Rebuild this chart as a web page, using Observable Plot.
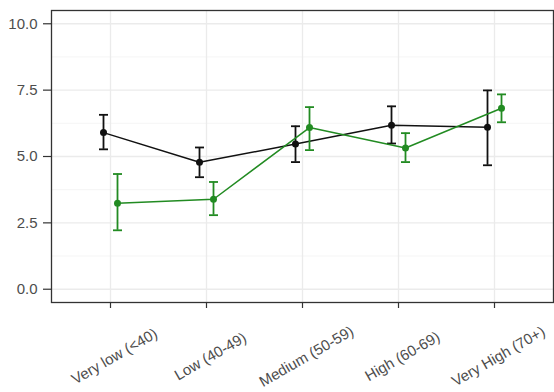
<!DOCTYPE html>
<html>
<head>
<meta charset="utf-8">
<script src="https://cdn.jsdelivr.net/npm/d3@7"></script>
<script src="https://cdn.jsdelivr.net/npm/@observablehq/plot@0.6"></script>
<style>
  html, body { margin: 0; padding: 0; background: #ffffff; }
  #chart svg { display: block; }
</style>
</head>
<body>
<div id="chart"></div>
<script>
const categories = ["Very low (<40)", "Low (40-49)", "Medium (50-59)", "High (60-69)", "Very High (70+)"];
const blackMean = [5.90, 4.78, 5.47, 6.18, 6.10];
const blackLo   = [5.27, 4.22, 4.79, 5.49, 4.67];
const blackHi   = [6.57, 5.34, 6.14, 6.89, 7.49];
const greenMean = [3.24, 3.39, 6.09, 5.32, 6.82];
const greenLo   = [2.22, 2.79, 5.24, 4.79, 6.29];
const greenHi   = [4.34, 4.04, 6.86, 5.88, 7.34];
const yMajor = [0, 2.5, 5, 7.5, 10];
const yMinor = [1.25, 3.75, 6.25, 8.75];

const black = categories.map((c, i) => ({cat: c, mean: blackMean[i], lo: blackLo[i], hi: blackHi[i]}));
const green = categories.map((c, i) => ({cat: c, mean: greenMean[i], lo: greenLo[i], hi: greenHi[i]}));

const GREEN = "#228B22";
const BLACK = "#111111";

// horizontal cap symbol for error bars
const capSymbol = {
  draw(context, size) {
    const r = Math.sqrt(size / Math.PI);
    context.moveTo(-r, 0);
    context.lineTo(r, 0);
  }
};

function series(data, color, dx) {
  return [
    Plot.line(data, {x: "cat", y: "mean", stroke: color, strokeWidth: 1.5, dx}),
    Plot.ruleX(data, {x: "cat", y1: "lo", y2: "hi", stroke: color, strokeWidth: 1.8, dx}),
    Plot.dot(data, {x: "cat", y: "lo", symbol: capSymbol, r: 4.5, stroke: color, fill: "none", strokeWidth: 1.8, dx}),
    Plot.dot(data, {x: "cat", y: "hi", symbol: capSymbol, r: 4.5, stroke: color, fill: "none", strokeWidth: 1.8, dx}),
    Plot.dot(data, {x: "cat", y: "mean", fill: color, r: 3.5, dx})
  ];
}

const chart = Plot.plot({
  width: 554,
  height: 392,
  marginLeft: 51,
  marginRight: 1,
  marginTop: 10,
  marginBottom: 90,
  style: {fontFamily: "'Liberation Sans', Arial, sans-serif", background: "#ffffff"},
  x: {type: "point", domain: categories, padding: 0.6},
  y: {domain: [-0.5, 10.5]},
  marks: [
    Plot.gridY(yMinor, {stroke: "#F2F2F2", strokeOpacity: 1, strokeWidth: 0.8}),
    Plot.gridY(yMajor, {stroke: "#EBEBEB", strokeOpacity: 1, strokeWidth: 1.3}),
    Plot.gridX(categories, {stroke: "#EBEBEB", strokeOpacity: 1, strokeWidth: 1.3}),
    Plot.axisY(yMajor, {tickSize: 8, tickPadding: 6, tickFormat: d3.format(".1f"), fontSize: 15, fill: "#4D4D4D", stroke: "#333333", strokeWidth: 1.2, label: null}),
    Plot.axisX(categories, {tickSize: 6, tickFormat: () => "", stroke: "#333333", strokeWidth: 1.2, label: null}),
    Plot.text(categories, {x: d => d, frameAnchor: "bottom", dy: 54, dx: 4, rotate: -30, fontSize: 15, fill: "#4D4D4D", textAnchor: "middle", lineAnchor: "middle"}),
    ...series(black, BLACK, -7),
    ...series(green, GREEN, 7),
    Plot.frame({stroke: "#333333", strokeWidth: 1.3})
  ]
});
document.getElementById("chart").appendChild(chart);
</script>
</body>
</html>
